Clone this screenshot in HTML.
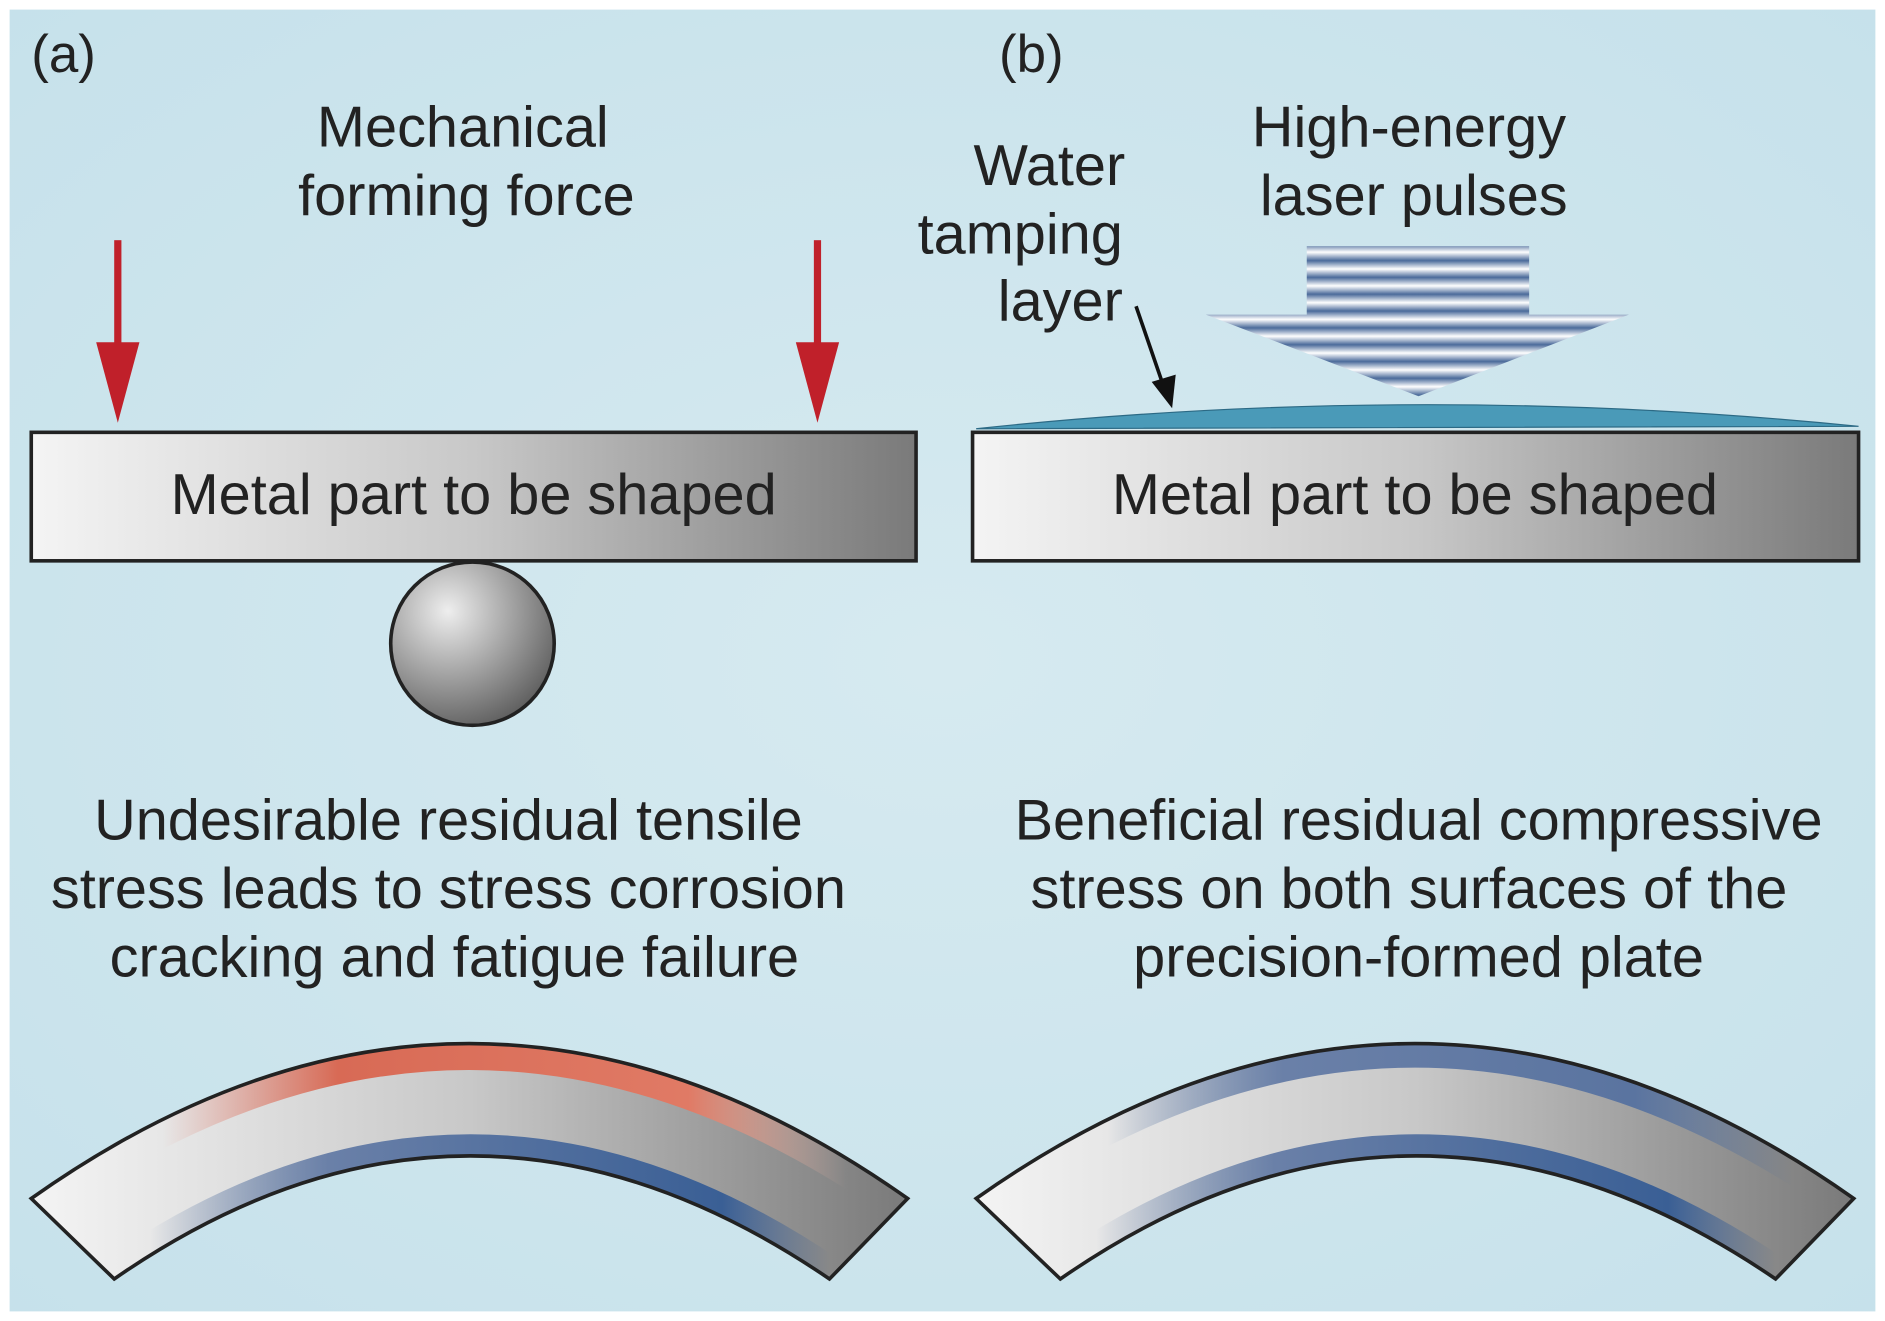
<!DOCTYPE html>
<html><head><meta charset="utf-8"><style>
html,body{margin:0;padding:0;background:#fff;}
svg{display:block;}
text{font-family:"Liberation Sans",sans-serif;fill:#222;}
</style></head><body>
<svg width="1885" height="1321" viewBox="0 0 1568 1100" preserveAspectRatio="none" xmlns="http://www.w3.org/2000/svg">
<defs>
<linearGradient id="bar" x1="0" x2="1" y1="0" y2="0">
<stop offset="0" stop-color="#f4f4f4"/><stop offset="0.5" stop-color="#c8c8c8"/><stop offset="1" stop-color="#7a7a7a"/></linearGradient>
<radialGradient id="ball" cx="0.35" cy="0.3" r="0.8">
<stop offset="0" stop-color="#eeeeee"/><stop offset="1" stop-color="#555"/></radialGradient>
<linearGradient id="stripe" x1="0" x2="0" y1="0" y2="1">
<stop offset="0" stop-color="#ffffff"/><stop offset="0.5" stop-color="#4a6a9a"/><stop offset="1" stop-color="#ffffff"/></linearGradient>
<pattern id="stp" width="10" height="14" patternUnits="userSpaceOnUse">
<rect width="10" height="14" fill="url(#stripe)"/></pattern>
<radialGradient id="bg" cx="0.5" cy="0.5" r="0.8">
<stop offset="0" stop-color="#d6eaf0"/><stop offset="1" stop-color="#c4e0ea"/></radialGradient>
<linearGradient id="red" x1="26" x2="755" y1="0" y2="0" gradientUnits="userSpaceOnUse">
<stop offset="0.15" stop-color="#e08070" stop-opacity="0"/><stop offset="0.35" stop-color="#d86a55"/><stop offset="0.75" stop-color="#e07a65"/><stop offset="0.93" stop-color="#f0c0b0" stop-opacity="0"/></linearGradient>
<linearGradient id="blueA" x1="95" x2="690" y1="0" y2="0" gradientUnits="userSpaceOnUse">
<stop offset="0.05" stop-color="#4a6a9a" stop-opacity="0"/><stop offset="0.3" stop-color="#6a80a8"/><stop offset="0.85" stop-color="#3a5f95"/><stop offset="1" stop-color="#3a5f95" stop-opacity="0"/></linearGradient>
<linearGradient id="blueB" x1="812" x2="1542" y1="0" y2="0" gradientUnits="userSpaceOnUse">
<stop offset="0.15" stop-color="#4a6a9a" stop-opacity="0"/><stop offset="0.35" stop-color="#6a80a8"/><stop offset="0.75" stop-color="#5a74a0"/><stop offset="0.93" stop-color="#4a6a9a" stop-opacity="0"/></linearGradient>
<linearGradient id="blueC" x1="882" x2="1477" y1="0" y2="0" gradientUnits="userSpaceOnUse">
<stop offset="0.05" stop-color="#4a6a9a" stop-opacity="0"/><stop offset="0.3" stop-color="#6a80a8"/><stop offset="0.85" stop-color="#3a5f95"/><stop offset="1" stop-color="#3a5f95" stop-opacity="0"/></linearGradient>
<clipPath id="pa"><path d="M26,998 Q390,740 755,998 L690,1065 Q390,860 95,1065 Z"/></clipPath>
<clipPath id="pb"><path d="M812,998 Q1177,740 1542,998 L1477,1065 Q1177,860 882,1065 Z"/></clipPath>
</defs>
<rect x="0" y="0" width="1568" height="1100" fill="#fff"/>
<rect x="8" y="8" width="1552" height="1084" fill="url(#bg)"/>
<text x="26" y="60" font-size="44">(a)</text>
<text x="831" y="60" font-size="44">(b)</text>
<g font-size="48" text-anchor="middle">
<text x="385" y="122">Mechanical</text>
<text x="388" y="179">forming force</text>
<text x="1172" y="122">High-energy</text>
<text x="1176" y="179">laser pulses</text>
</g>
<g font-size="48" text-anchor="end">
<text x="936" y="154">Water</text>
<text x="934" y="211">tamping</text>
<text x="934" y="267">layer</text>
</g>
<g fill="#c0202a">
<rect x="95" y="200" width="6" height="90"/><polygon points="80,285 116,285 98,352"/>
<rect x="677" y="200" width="6" height="90"/><polygon points="662,285 698,285 680,352"/>
</g>
<rect x="26" y="360" width="736" height="107" fill="url(#bar)" stroke="#222" stroke-width="3"/>
<rect x="809" y="360" width="737" height="107" fill="url(#bar)" stroke="#222" stroke-width="3"/>
<path d="M812,357 Q1177,318 1546,355 Z" fill="#4a9ab8" stroke="#2c6a85" stroke-width="1"/>
<g font-size="48" text-anchor="middle">
<text x="394" y="428">Metal part to be shaped</text>
<text x="1177" y="428">Metal part to be shaped</text>
</g>
<circle cx="393" cy="536" r="68" fill="url(#ball)" stroke="#222" stroke-width="3"/>
<line x1="945" y1="255" x2="968" y2="322" stroke="#111" stroke-width="3"/>
<polygon points="958,318 978,312 975,340" fill="#111"/>
<polygon points="1087,205 1272,205 1272,262 1355,262 1180,330 1003,262 1087,262" fill="url(#stp)"/>
<g font-size="48" text-anchor="middle">
<text x="373" y="699">Undesirable residual tensile</text>
<text x="373" y="756">stress leads to stress corrosion</text>
<text x="378" y="813">cracking and fatigue failure</text>
<text x="1180" y="699">Beneficial residual compressive</text>
<text x="1172" y="756">stress on both surfaces of the</text>
<text x="1180" y="813">precision-formed plate</text>
</g>
<path d="M26,998 Q390,740 755,998 L690,1065 Q390,860 95,1065 Z" fill="url(#bar)"/>
<path d="M812,998 Q1177,740 1542,998 L1477,1065 Q1177,860 882,1065 Z" fill="url(#bar)"/>
<g clip-path="url(#pa)" fill="none">
<path d="M26,998 Q390,740 755,998" stroke="url(#red)" stroke-width="44"/>
<path d="M95,1065 Q390,860 690,1065" stroke="url(#blueA)" stroke-width="36"/>
</g>
<g clip-path="url(#pb)" fill="none">
<path d="M812,998 Q1177,740 1542,998" stroke="url(#blueB)" stroke-width="40"/>
<path d="M882,1065 Q1177,860 1477,1065" stroke="url(#blueC)" stroke-width="36"/>
</g>
<g stroke="#222" stroke-width="3" fill="none">
<path d="M26,998 Q390,740 755,998 L690,1065 Q390,860 95,1065 Z"/>
<path d="M812,998 Q1177,740 1542,998 L1477,1065 Q1177,860 882,1065 Z"/>
</g>
</svg>
</body></html>
